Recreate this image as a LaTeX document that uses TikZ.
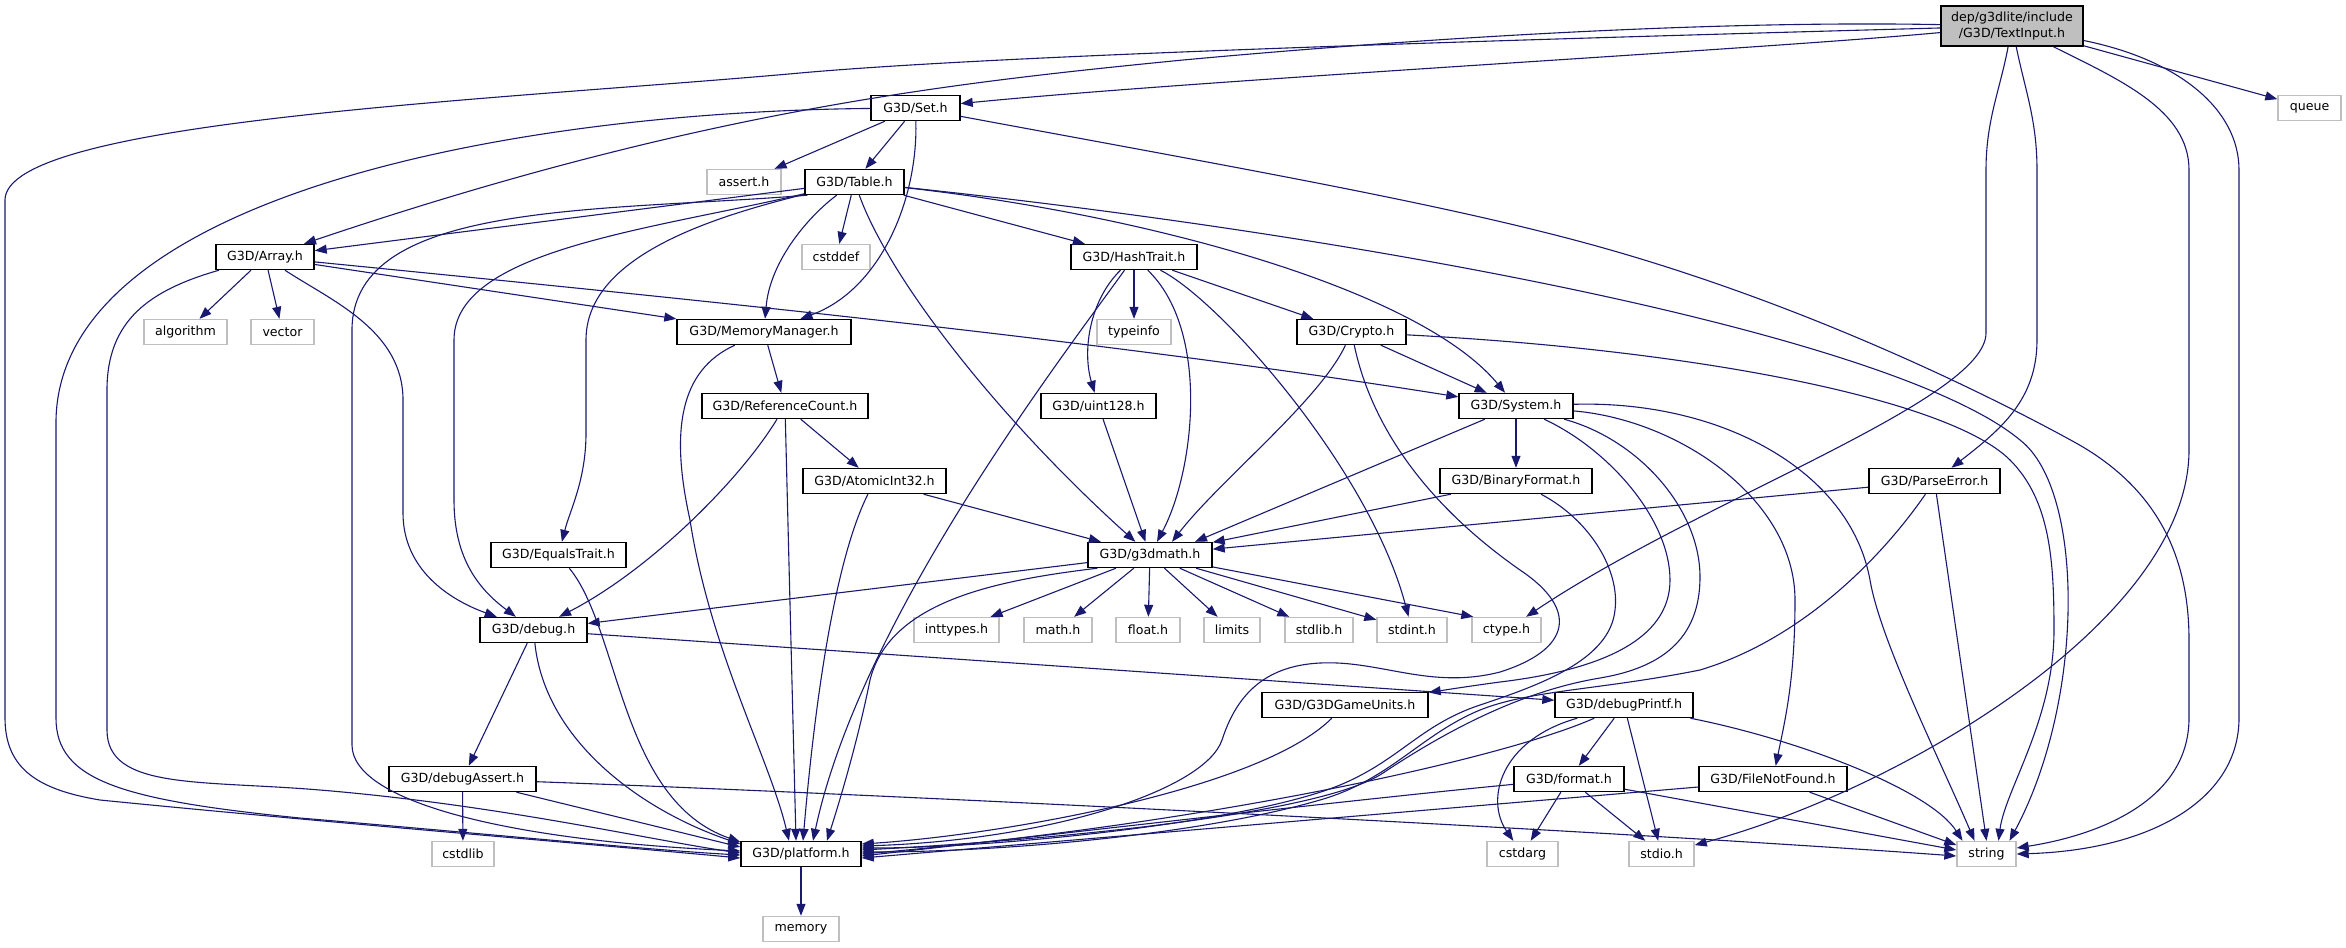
\documentclass[tikz,border=0pt]{standalone}
\usepackage{fontspec}
\setmainfont{DejaVu Sans}
\usetikzlibrary{arrows.meta,calc}
\definecolor{edgec}{HTML}{191970}
\definecolor{greyb}{HTML}{BFBFBF}
\tikzset{
  nd/.style={draw=black, line width=1.4pt, fill=white, minimum height=25pt, inner sep=0pt, text=black, font=\fontsize{12.6}{16}\selectfont},
  sys/.style={nd, draw=greyb},
  dep/.style={draw=edgec, line width=1.1pt, -{Triangle[length=12pt,width=9pt]}},
}
\begin{document}
\begin{tikzpicture}[x=1pt,y=-1pt]
\useasboundingbox (0,0) rectangle (2346,948);
\fill[white] (0,0) rectangle (2346,948);
% nodes
\node[nd, fill=greyb, minimum width=142pt, minimum height=40pt, align=center] (textinput) at (2012,26) {dep/g3dlite/include\\/G3D/TextInput.h};
\node[nd, minimum width=89pt] (set) at (915.5,108) {G3D/Set.h};
\node[sys, minimum width=63pt] (queue) at (2309.5,108) {queue};
\node[nd, minimum width=99pt] (table) at (854.5,182) {G3D/Table.h};
\node[sys, minimum width=74pt] (assert) at (744,182) {assert.h};
\node[nd, minimum width=98pt] (array) at (265,257) {G3D/Array.h};
\node[sys, minimum width=68pt] (cstddef) at (836,257) {cstddef};
\node[nd, minimum width=126pt] (hashtrait) at (1134,257) {G3D/HashTrait.h};
\node[sys, minimum width=83pt] (algorithm) at (185.5,332) {algorithm};
\node[sys, minimum width=63pt] (vector) at (282.5,332) {vector};
\node[nd, minimum width=174pt] (memorymanager) at (764,332) {G3D/MemoryManager.h};
\node[sys, minimum width=74pt] (typeinfo) at (1134,332) {typeinfo};
\node[nd, minimum width=109pt] (crypto) at (1351.5,332) {G3D/Crypto.h};
\node[nd, minimum width=166pt] (referencecount) at (785,406) {G3D/ReferenceCount.h};
\node[nd, minimum width=115pt] (uint128) at (1098.5,406) {G3D/uint128.h};
\node[nd, minimum width=114pt] (system) at (1516,406) {G3D/System.h};
\node[nd, minimum width=143pt] (atomicint32) at (874.5,481) {G3D/AtomicInt32.h};
\node[nd, minimum width=152pt] (binaryformat) at (1516,481) {G3D/BinaryFormat.h};
\node[nd, minimum width=131pt] (parseerror) at (1934.5,481) {G3D/ParseError.h};
\node[nd, minimum width=135pt] (equalstrait) at (558.5,555) {G3D/EqualsTrait.h};
\node[nd, minimum width=124pt] (g3dmath) at (1150,555) {G3D/g3dmath.h};
\node[nd, minimum width=107pt] (debug) at (533.5,630) {G3D/debug.h};
\node[sys, minimum width=85pt] (inttypes) at (956.5,630) {inttypes.h};
\node[sys, minimum width=68pt] (mathh) at (1058,630) {math.h};
\node[sys, minimum width=64pt] (floath) at (1148,630) {float.h};
\node[sys, minimum width=56pt] (limits) at (1232,630) {limits};
\node[sys, minimum width=68pt] (stdlibh) at (1319,630) {stdlib.h};
\node[sys, minimum width=70pt] (stdint) at (1412,630) {stdint.h};
\node[sys, minimum width=69pt] (ctype) at (1506.5,630) {ctype.h};
\node[nd, minimum width=166pt] (g3dgameunits) at (1345,705) {G3D/G3DGameUnits.h};
\node[nd, minimum width=138pt] (debugprintf) at (1624,705) {G3D/debugPrintf.h};
\node[nd, minimum width=147pt] (debugassert) at (462.5,779) {G3D/debugAssert.h};
\node[nd, minimum width=110pt] (formath) at (1569,779) {G3D/format.h};
\node[nd, minimum width=148pt] (filenotfound) at (1773,779) {G3D/FileNotFound.h};
\node[sys, minimum width=62pt] (cstdlib) at (463,854) {cstdlib};
\node[nd, minimum width=120pt] (platform) at (801,854) {G3D/platform.h};
\node[sys, minimum width=71pt] (cstdarg) at (1522.5,854) {cstdarg};
\node[sys, minimum width=65pt] (stdio) at (1661.5,854) {stdio.h};
\node[sys, minimum width=59pt] (stringh) at (1986.5,854) {string};
\node[sys, minimum width=76pt] (memory) at (801,929) {memory};
% TextInput
\draw[dep] (textinput) .. controls (1750,50) and (1200,80) .. (set);
\draw[dep] (textinput) .. controls (1700,20) and (1400,40) .. (1183,60) .. controls (950,83) and (700,110) .. (array);
\draw[dep] (textinput) .. controls (1500,40) and (1000,55) .. (800,73) .. controls (500,100) and (5,120) .. (5,200) -- (5,718) .. controls (5,770) and (40,790) .. (100,800) .. controls (300,820) and (600,845) .. ($(platform.west)+(0,4)$);
\draw[dep] (textinput) -- (queue);
\draw[dep] (textinput) .. controls (2000,90) and (1986,120) .. (1986,170) -- (1986,333) .. controls (1986,400) and (1700,500) .. (ctype);
\draw[dep] (textinput) .. controls (2025,90) and (2037,120) .. (2037,170) -- (2037,340) .. controls (2037,400) and (2000,430) .. (parseerror);
\draw[dep] (textinput) .. controls (2120,80) and (2189,110) .. (2189,170) -- (2189,450) .. controls (2189,620) and (1900,790) .. (stdio);
\draw[dep] (textinput) .. controls (2180,60) and (2239,110) .. (2239,170) -- (2239,718) .. controls (2239,800) and (2150,850) .. ($(stringh.east)+(0,0)$);
% Set
\draw[dep] (set) -- (assert);
\draw[dep] (set) -- (table);
\draw[dep] (set) .. controls (918,200) and (880,290) .. (memorymanager);
\draw[dep] (set) .. controls (500,112) and (60,200) .. (56,420) -- (56,718) .. controls (56,780) and (120,800) .. (300,818) .. controls (500,835) and (650,850) .. ($(platform.west)+(0,1)$);
\draw[dep] (set) .. controls (1250,170) and (1450,205) .. (1600,247) .. controls (1800,303) and (1980,390) .. (2076,443) .. controls (2160,490) and (2189,560) .. (2189,640) -- (2189,718) .. controls (2189,800) and (2100,835) .. ($(stringh.east)+(0,-6)$);
% Table
\draw[dep] (table) -- (array);
\draw[dep] (table) -- (cstddef);
\draw[dep] (table) -- (hashtrait);
\draw[dep] (table) .. controls (810,215) and (770,260) .. (memorymanager);
\draw[dep] (table) .. controls (700,220) and (586,260) .. (586,340) -- (586,433) .. controls (586,480) and (570,510) .. (equalstrait);
\draw[dep] (table) .. controls (650,230) and (454,250) .. (454,340) -- (454,500) .. controls (454,560) and (480,590) .. (debug);
\draw[dep] ($(table.south west)+(3,0)$) .. controls (600,212) and (352,200) .. (352,330) -- (352,745) .. controls (352,800) and (500,840) .. ($(platform.west)+(0,-3)$);
\draw[dep] (table) .. controls (890,280) and (1000,420) .. (g3dmath);
\draw[dep] (table) .. controls (1150,215) and (1420,290) .. (system);
\draw[dep] (table) .. controls (1400,240) and (1900,340) .. (2020,440) .. controls (2085,490) and (2085,700) .. ($(stringh.north)+(23,0)$);
% Array
\draw[dep] (array) -- (algorithm);
\draw[dep] (array) -- (vector);
\draw[dep] (array) -- (memorymanager);
\draw[dep] (array) .. controls (700,300) and (1100,340) .. (system);
\draw[dep] (array) .. controls (330,300) and (403,330) .. (403,400) -- (403,513) .. controls (403,570) and (450,600) .. (debug);
\draw[dep] (array) .. controls (150,290) and (107,320) .. (107,390) -- (107,730) .. controls (107,790) and (200,780) .. (320,790) .. controls (500,805) and (650,840) .. ($(platform.west)+(0,-1)$);
% HashTrait
\draw[dep] (hashtrait) -- (typeinfo);
\draw[dep] (hashtrait) .. controls (1090,300) and (1082,350) .. (uint128);
\draw[dep] (hashtrait) .. controls (1210,330) and (1195,470) .. (g3dmath);
\draw[dep] (hashtrait) -- (crypto);
\draw[dep] (hashtrait) .. controls (1220,300) and (1370,470) .. (stdint);
\draw[dep] (hashtrait) .. controls (1060,360) and (860,620) .. ($(platform.north)+(12,0)$);
% Crypto
\draw[dep] (crypto) -- (system);
\draw[dep] (crypto) .. controls (1320,400) and (1220,480) .. ($(g3dmath.north)+(22,0)$);
\draw[dep] (crypto) .. controls (1370,420) and (1420,500) .. (1520,570) .. controls (1580,610) and (1570,650) .. (1500,672) .. controls (1430,690) and (1380,660) .. (1320,663) .. controls (1260,666) and (1235,700) .. (1222,740) .. controls (1205,790) and (1050,840) .. ($(platform.east)+(0,-8)$);
\draw[dep] (crypto) .. controls (1700,350) and (1950,400) .. (2010,460) .. controls (2050,500) and (2054,560) .. (2054,630) .. controls (2054,720) and (2005,790) .. ($(stringh.north)+(12,0)$);
% MemoryManager
\draw[dep] (memorymanager) -- (referencecount);
\draw[dep] (memorymanager) .. controls (680,370) and (670,430) .. (690,520) .. controls (710,650) and (770,760) .. ($(platform.north)+(-12,0)$);
% ReferenceCount
\draw[dep] (referencecount) -- (atomicint32);
\draw[dep] (referencecount) .. controls (740,480) and (650,570) .. (debug);
\draw[dep] (referencecount) -- ($(platform.north)+(-5,0)$);
% AtomicInt32
\draw[dep] (atomicint32) -- (g3dmath);
\draw[dep] (atomicint32) .. controls (835,560) and (815,700) .. ($(platform.north)+(2,0)$);
% uint128
\draw[dep] (uint128) -- (g3dmath);
% System
\draw[dep] (system) -- (binaryformat);
\draw[dep] (system) -- ($(g3dmath.north)+(45,0)$);
\draw[dep] (system) .. controls (1610,450) and (1670,520) .. (1670,580) .. controls (1670,640) and (1600,670) .. (1500,682) .. controls (1470,686) and (1445,690) .. (g3dgameunits);
\draw[dep] (system) .. controls (1640,440) and (1700,510) .. (1700,577) .. controls (1700,640) and (1660,668) .. (1600,678) .. controls (1540,688) and (1470,715) .. (1383,773) .. controls (1320,815) and (1050,840) .. ($(platform.east)+(0,-4)$);
\draw[dep] (system) .. controls (1680,420) and (1795,500) .. (1795,600) .. controls (1795,680) and (1785,720) .. (filenotfound);
\draw[dep] (system) .. controls (1720,400) and (1850,470) .. (1870,580) .. controls (1880,640) and (1940,760) .. ($(stringh.north)+(-12,0)$);
% BinaryFormat
\draw[dep] (binaryformat) -- (g3dmath);
\draw[dep] (binaryformat) .. controls (1590,520) and (1620,570) .. (1615,610) .. controls (1610,660) and (1540,685) .. (1480,705) .. controls (1420,725) and (1400,760) .. (1340,785) .. controls (1250,822) and (1000,848) .. ($(platform.east)+(0,-6)$);
% ParseError
\draw[dep] (parseerror) -- (g3dmath);
\draw[dep] (parseerror) .. controls (1880,560) and (1800,640) .. (1700,670) .. controls (1600,690) and (1530,690) .. (1480,710) .. controls (1420,735) and (1390,780) .. (1320,800) .. controls (1200,835) and (1000,852) .. ($(platform.east)+(0,-2)$);
\draw[dep] (parseerror) -- ($(stringh.north)+(0,0)$);
% EqualsTrait
\draw[dep] (equalstrait) .. controls (620,630) and (620,800) .. ($(platform.west)+(0,-12)$);
% g3dmath
\draw[dep] (g3dmath) -- (debug);
\draw[dep] (g3dmath) -- (inttypes);
\draw[dep] (g3dmath) -- (mathh);
\draw[dep] (g3dmath) -- (floath);
\draw[dep] (g3dmath) -- (limits);
\draw[dep] (g3dmath) -- (stdlibh);
\draw[dep] (g3dmath) -- (stdint);
\draw[dep] (g3dmath) -- ($(ctype.north west)+(2,0)$);
\draw[dep] ($(g3dmath.south west)+(10,0)$) .. controls (1000,580) and (890,600) .. (870,680) .. controls (858,740) and (840,800) .. ($(platform.north)+(26,0)$);
% debug
\draw[dep] (debug) -- (debugassert);
\draw[dep] (debug) -- (debugprintf);
\draw[dep] (debug) .. controls (545,740) and (640,810) .. ($(platform.west)+(0,-10)$);
% debugAssert
\draw[dep] (debugassert) -- (cstdlib);
\draw[dep] (debugassert) -- ($(platform.west)+(0,-7)$);
\draw[dep] (debugassert) .. controls (900,795) and (1600,830) .. ($(stringh.west)+(0,2)$);
% G3DGameUnits
\draw[dep] (g3dgameunits) .. controls (1260,790) and (1000,835) .. ($(platform.east)+(0,-10)$);
% debugPrintf
\draw[dep] (debugprintf) .. controls (1500,760) and (1200,825) .. ($(platform.east)+(0,0)$);
\draw[dep] (debugprintf) -- (formath);
\draw[dep] (debugprintf) .. controls (1500,740) and (1485,800) .. (cstdarg);
\draw[dep] (debugprintf) -- (stdio);
\draw[dep] (debugprintf) .. controls (1800,740) and (1930,790) .. ($(stringh.north)+(-24,0)$);
% format
\draw[dep] (formath) .. controls (1350,800) and (1050,835) .. ($(platform.east)+(0,2)$);
\draw[dep] (formath) -- (cstdarg);
\draw[dep] (formath) -- (stdio);
\draw[dep] (formath) -- ($(stringh.west)+(0,-4)$);
% FileNotFound
\draw[dep] ($(filenotfound.west)+(0,8)$) -- ($(platform.east)+(0,4)$);
\draw[dep] (filenotfound) -- ($(stringh.west)+(0,-9)$);
% platform
\draw[dep] (platform) -- (memory);
\end{tikzpicture}
\end{document}
